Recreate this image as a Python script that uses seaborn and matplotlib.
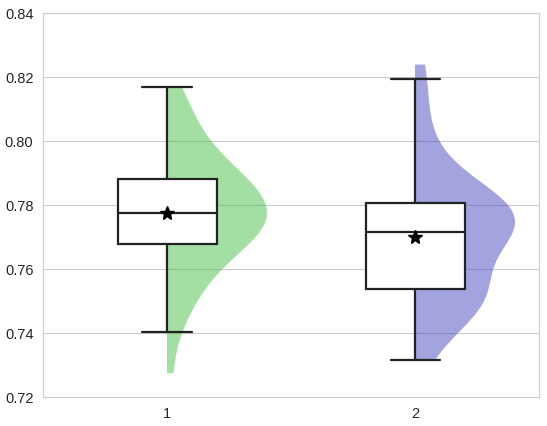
import matplotlib
matplotlib.use("Agg")
import matplotlib.pyplot as plt
import seaborn as sns
import pandas as pd
from matplotlib.patches import Rectangle

group_labels = ["1", "2"]
values_1 = [0.7276, 0.7402, 0.7450, 0.7485, 0.7515, 0.7540, 0.7562, 0.7578,
            0.7597, 0.7613, 0.7628, 0.7642, 0.7655, 0.7668, 0.7680, 0.7688,
            0.7696, 0.7703, 0.7710, 0.7717, 0.7724, 0.7731, 0.7738, 0.7745,
            0.7752, 0.7759, 0.7765, 0.7771, 0.7776, 0.7783, 0.7790, 0.7797,
            0.7805, 0.7813, 0.7821, 0.7829, 0.7837, 0.7845, 0.7853, 0.7862,
            0.7869, 0.7876, 0.7883, 0.7893, 0.7904, 0.7916, 0.7929, 0.7943,
            0.7958, 0.7974, 0.7995, 0.8018, 0.8042, 0.8068, 0.8098, 0.8135,
            0.8169]
values_2 = [0.7315, 0.7365, 0.7395, 0.7420, 0.7440, 0.7456, 0.7470, 0.7482,
            0.7492, 0.7502, 0.7511, 0.7519, 0.7526, 0.7533, 0.7538, 0.7546,
            0.7556, 0.7568, 0.7585, 0.7605, 0.7625, 0.7645, 0.7662, 0.7675,
            0.7686, 0.7695, 0.7703, 0.7710, 0.7717, 0.7724, 0.7730, 0.7736,
            0.7742, 0.7748, 0.7754, 0.7760, 0.7766, 0.7772, 0.7779, 0.7786,
            0.7793, 0.7800, 0.7806, 0.7814, 0.7823, 0.7833, 0.7844, 0.7856,
            0.7870, 0.7886, 0.7905, 0.7945, 0.7990, 0.8040, 0.8110, 0.8193,
            0.8241]
violin_colors = ["#48c048", "#4848c0"]
y_ticks = [0.72, 0.74, 0.76, 0.78, 0.80, 0.82, 0.84]

df = pd.DataFrame({
    "group": [group_labels[0]] * len(values_1) + [group_labels[1]] * len(values_2),
    "value": values_1 + values_2,
})

sns.set_style("whitegrid")
plt.rcParams["font.family"] = ["Liberation Sans", "DejaVu Sans"]

fig, ax = plt.subplots(figsize=(5.47, 4.26), dpi=100)
fig.subplots_adjust(left=0.079, right=0.986, top=0.969, bottom=0.068)

sns.violinplot(data=df, x="group", y="value", order=group_labels,
               hue="group", palette=violin_colors, legend=False,
               cut=0, inner=None, density_norm="width", width=0.8,
               bw_adjust=1.0, saturation=1,
               linewidth=0, alpha=0.5, ax=ax)

# keep only the right half of each violin
for i, coll in enumerate(ax.collections):
    clip = Rectangle((i, 0.5), 1.0, 0.5, transform=ax.transData)
    coll.set_clip_path(clip)

sns.boxplot(data=df, x="group", y="value", order=group_labels,
            width=0.4, showfliers=False, showmeans=True,
            color="white", saturation=1, linecolor="#222222", linewidth=1.6,
            meanprops=dict(marker="*", markerfacecolor="black",
                           markeredgecolor="black", markersize=10, zorder=5),
            boxprops=dict(zorder=3), whiskerprops=dict(zorder=3),
            capprops=dict(zorder=3), medianprops=dict(zorder=4),
            ax=ax)

ax.set_xlim(-0.5, 1.5)
ax.set_ylim(0.72, 0.84)
ax.set_yticks(y_ticks)
ax.set_yticklabels([f"{t:.2f}" for t in y_ticks])
ax.set_xlabel("")
ax.set_ylabel("")
ax.tick_params(labelsize=10.5, colors="#262626")
ax.set_axisbelow(True)

fig.savefig("out.png", dpi=100)
